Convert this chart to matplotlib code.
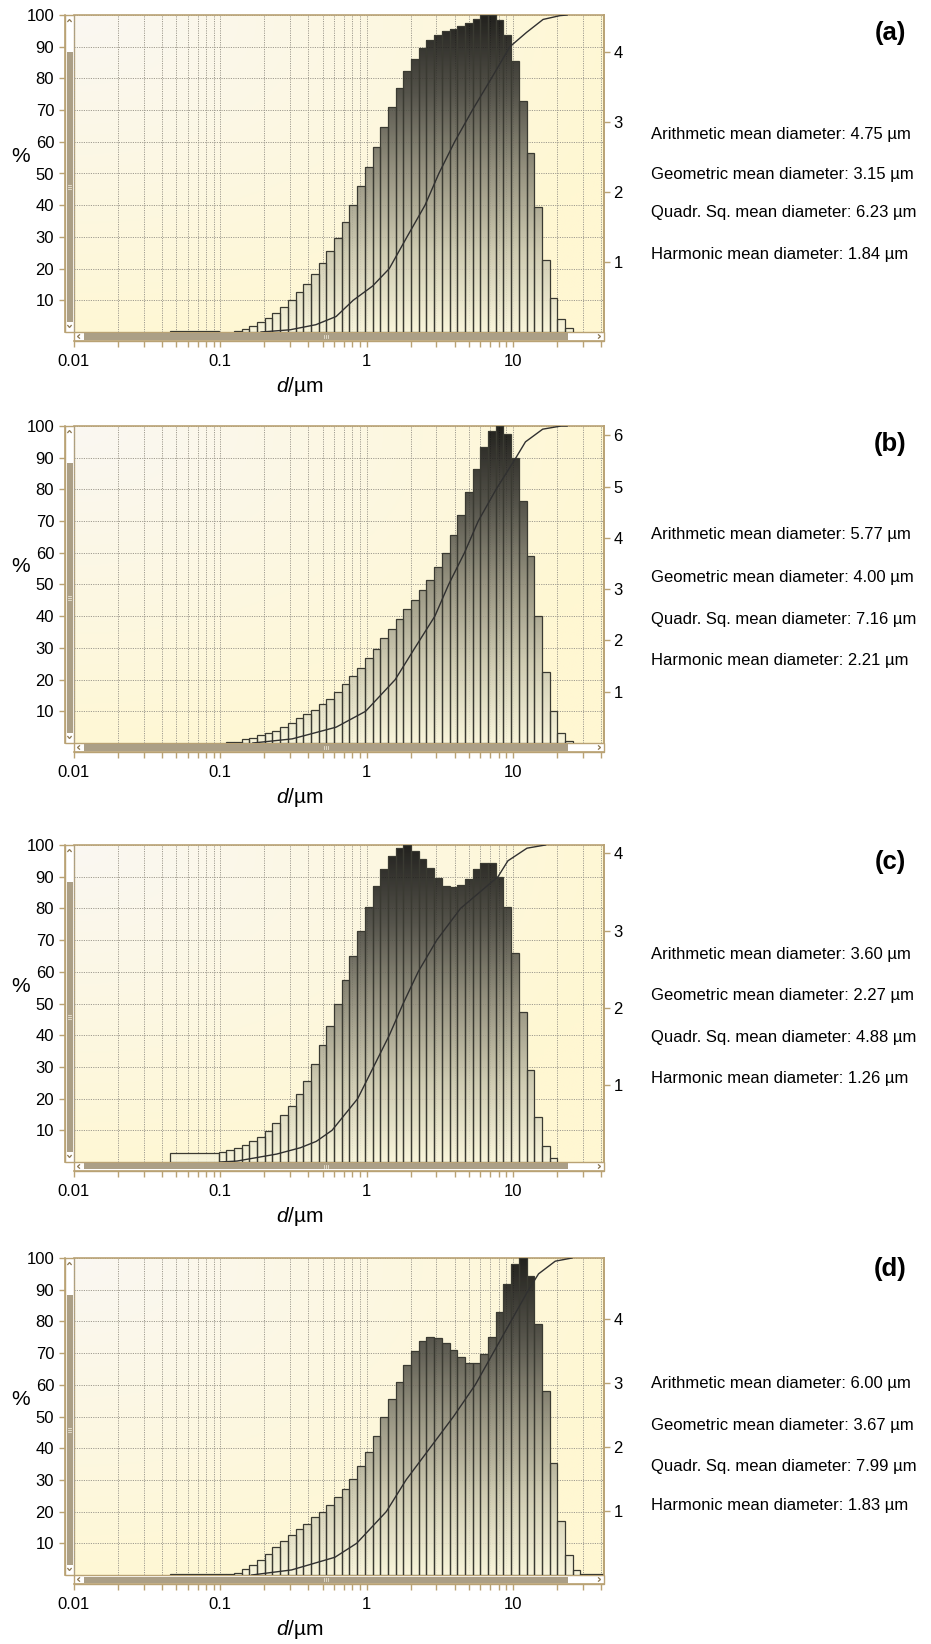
import numpy as np
import matplotlib
matplotlib.use('Agg')
import matplotlib.pyplot as plt
from matplotlib.colors import LinearSegmentedColormap
from matplotlib.patches import Rectangle, PathPatch
from matplotlib.path import Path
from matplotlib.lines import Line2D
from matplotlib.ticker import LogLocator, NullFormatter

plt.rcParams['font.family'] = ['Liberation Sans', 'DejaVu Sans']
plt.rcParams['mathtext.fontset'] = 'custom'
plt.rcParams['mathtext.it'] = 'Liberation Sans:italic'
plt.rcParams['mathtext.rm'] = 'Liberation Sans'

# ---- data ----
# size class edges in um (first and last class are wide)
EDGES = [0.0455, 0.0974, 0.1099, 0.1241, 0.1401, 0.1581, 0.1785, 0.2015, 0.2275, 0.2567,
         0.2898, 0.3272, 0.3693, 0.4169, 0.4707, 0.5313, 0.5997, 0.6770, 0.7642, 0.8627,
         0.9737, 1.099, 1.241, 1.401, 1.581, 1.785, 2.015, 2.275, 2.567, 2.898,
         3.272, 3.693, 4.169, 4.707, 5.313, 5.997, 6.770, 7.642, 8.627, 9.737,
         10.99, 12.41, 14.01, 15.81, 17.85, 20.15, 22.75, 25.67, 28.98, 42.0]

HIST_A = [0.4, 0, 0, 0.3, 1.0, 1.8, 3.0, 4.5, 6.0, 8.0, 10.0, 12.7, 15.2, 18.3, 21.7, 25.5,
          29.8, 34.7, 40.0, 46.0, 52.0, 58.3, 64.6, 71.0, 77.0, 82.3, 86.2, 89.5, 92.0, 93.8,
          95.0, 95.6, 96.4, 97.5, 98.6, 100, 100, 98.3, 93.7, 85.6, 73.0, 56.5, 39.3, 22.8,
          10.7, 4.0, 1.2, 0, 0]
HIST_B = [0, 0, 0.3, 0.4, 1.2, 1.7, 2.4, 3.0, 3.9, 5.0, 6.3, 7.8, 9.0, 10.5, 12.2, 14.0,
          16.2, 18.5, 21.0, 23.7, 26.7, 29.7, 33.0, 36.0, 39.0, 42.3, 45.0, 48.4, 51.5, 55.6,
          60.0, 65.5, 71.8, 79.2, 86.3, 93.4, 98.3, 100, 97.6, 90.0, 76.3, 59.0, 40.0, 22.5,
          10.0, 3.0, 0.7, 0, 0]
HIST_C = [2.8, 3.2, 3.8, 4.5, 5.4, 6.6, 8.0, 9.8, 12.2, 14.8, 17.8, 21.6, 25.7, 31.0, 36.8,
          42.8, 50.0, 57.3, 65.1, 72.8, 80.3, 87.2, 92.4, 96.6, 99.0, 100, 98.2, 95.6, 92.7,
          89.6, 87.2, 86.6, 87.3, 89.3, 92.5, 94.4, 94.4, 90.0, 80.5, 65.8, 47.4, 29.0, 14.3,
          5.0, 1.2, 0, 0, 0, 0]
HIST_D = [0.3, 0.2, 0.3, 0.7, 2.0, 3.2, 4.7, 6.6, 8.8, 10.7, 12.6, 14.4, 16.2, 18.3, 20.0,
          22.2, 24.6, 27.1, 30.3, 34.4, 38.9, 43.9, 49.7, 55.4, 61.0, 66.4, 70.7, 73.7, 75.0,
          74.7, 73.3, 71.1, 68.8, 67.0, 67.0, 69.8, 75.0, 83.0, 91.7, 98.0, 100, 94.2, 79.3,
          57.9, 35.4, 17.0, 6.2, 1.7, 0.2]

# cumulative curves (um, %)
CUM_A_X = [0.19, 0.30, 0.45, 0.62, 0.81, 1.10, 1.43, 1.89, 2.51, 3.12, 4.00, 5.29, 7.13,
           9.55, 12.4, 16.1, 21.0, 23.5]
CUM_A_Y = [0, 0.7, 2.3, 4.9, 10, 14.5, 20, 30, 40, 50, 60, 70, 80, 90, 94.5, 98.6, 99.8, 100]
CUM_B_X = [0.167, 0.31, 0.62, 0.985, 1.57, 2.14, 2.93, 3.64, 4.67, 5.80, 7.68, 10.5, 12.2,
           16.0, 21.4, 23.5]
CUM_B_Y = [0, 1.3, 5, 10, 20, 30, 40, 50, 60, 70, 80, 90, 95, 99, 100, 100]
CUM_C_X = [0.10, 0.13, 0.243, 0.353, 0.453, 0.581, 0.870, 1.116, 1.431, 1.78, 2.254, 3.02,
           4.39, 7.92, 9.25, 12.5, 16.7]
CUM_C_Y = [0, 0.3, 2.5, 4.5, 6.5, 10, 20, 30, 40, 50, 60, 70, 80, 90, 95, 99, 100]
CUM_D_X = [0.164, 0.307, 0.608, 0.856, 1.365, 1.863, 2.707, 3.932, 5.537, 7.326, 9.694,
           12.82, 14.99, 19.5, 25.4]
CUM_D_Y = [0, 1.6, 5.6, 10, 20, 30, 40, 50, 60, 70, 80, 90, 95, 99, 100]

RIGHT_MAX = [4.53, 6.18, 4.11, 4.95]
RIGHT_TICKS = [[1, 2, 3, 4], [1, 2, 3, 4, 5, 6], [1, 2, 3, 4], [1, 2, 3, 4]]

PANEL_LABELS = ['(a)', '(b)', '(c)', '(d)']
MEANS = [['4.75', '3.15', '6.23', '1.84'],
         ['5.77', '4.00', '7.16', '2.21'],
         ['3.60', '2.27', '4.88', '1.26'],
         ['6.00', '3.67', '7.99', '1.83']]
MEAN_NAMES = ['Arithmetic mean diameter', 'Geometric mean diameter',
              'Quadr. Sq. mean diameter', 'Harmonic mean diameter']

Y_TICKS = [10, 20, 30, 40, 50, 60, 70, 80, 90, 100]
X_TICKS = [0.01, 0.1, 1, 10]
X_TICK_LABELS = ['0.01', '0.1', '1', '10']

hists = [HIST_A, HIST_B, HIST_C, HIST_D]
curves = [(CUM_A_X, CUM_A_Y), (CUM_B_X, CUM_B_Y), (CUM_C_X, CUM_C_Y), (CUM_D_X, CUM_D_Y)]

# ---- layout (pixels) ----
W, H = 931, 1644
X0, X1 = 74, 604
TOPS = [15, 426, 845, 1258]
PH = 317
TEXT_Y = [[33, 134, 174, 213, 255],
          [444, 535, 577, 619, 660],
          [862, 954, 995, 1037, 1078],
          [1269, 1383, 1425, 1466, 1505]]

TAN = '#b9a274'
THUMB = '#ab9f86'
GRID = '#a09c90'

bar_cmap = LinearSegmentedColormap.from_list(
    'bars', [(0, '#f8f5dc'), (0.25, '#c9c6ae'), (0.5, '#8a8776'), (0.75, '#3f3e38'), (1, '#030303')])

# background: whitish top-left fading into pale yellow
gx, gy = np.meshgrid(np.linspace(0, 1, 120), np.linspace(0, 1, 120))
wt = np.clip(1 - np.sqrt(gx ** 2 + (1 - gy) ** 2) / 1.1, 0, 1)[..., None]
white = np.array([250, 248, 242]) / 255
yellow = np.array([255, 247, 210]) / 255
bg_img = wt * white + (1 - wt) * yellow

grad = np.linspace(0, 1, 256).reshape(-1, 1)

fig = plt.figure(figsize=(W / 100, H / 100), dpi=100)
fig.patch.set_facecolor('white')


def fx(px):
    return px / W


def fy(py):
    return 1 - py / H


def chevron(pts, lw=1.0):
    xs = [fx(p[0]) for p in pts]
    ys = [fy(p[1]) for p in pts]
    fig.add_artist(Line2D(xs, ys, transform=fig.transFigure, color='#8a7650', lw=lw,
                          solid_joinstyle='miter'))


for i in range(4):
    top = TOPS[i]
    bot = top + PH
    rect = [fx(X0), fy(bot), (X1 - X0) / W, PH / H]

    bg = fig.add_axes(rect, zorder=0)
    bg.imshow(bg_img, extent=[0, 1, 0, 1], aspect='auto', origin='lower')
    bg.set_xlim(0, 1)
    bg.set_ylim(0, 1)
    bg.axis('off')

    ax = fig.add_axes(rect, zorder=1)
    ax.set_facecolor('none')
    ax.set_xscale('log')
    ax.set_axisbelow(True)

    edges = np.array(EDGES)
    h = np.array(hists[i], dtype=float)
    left = edges[:-1]
    width = np.diff(edges)
    keep = h > 0

    # gradient clipped to the bars
    verts, codes = [], []
    for l, w_, hh in zip(left[keep], width[keep], h[keep]):
        verts += [(l, 0), (l, hh), (l + w_, hh), (l + w_, 0), (l, 0)]
        codes += [Path.MOVETO, Path.LINETO, Path.LINETO, Path.LINETO, Path.CLOSEPOLY]
    clip = PathPatch(Path(verts, codes), transform=ax.transData, facecolor='none',
                     edgecolor='none')
    ax.add_patch(clip)
    img = ax.imshow(grad, extent=[0.01, 42, 0, 100], aspect='auto', origin='lower',
                    cmap=bar_cmap, alpha=0.88, zorder=2, interpolation='bilinear')
    img.set_clip_path(clip)

    ax.bar(left[keep], h[keep], width=width[keep], align='edge', fill=False,
           edgecolor='#3a3a32', linewidth=0.9, zorder=3)

    cx, cy = curves[i]
    ax.plot(cx, cy, color='#303030', lw=1.0, zorder=5)

    ax.set_xlim(0.01, 42)
    ax.set_ylim(0, 100)

    ax.set_xticks(X_TICKS, labels=X_TICK_LABELS)
    ax.xaxis.set_minor_locator(LogLocator(base=10, subs=np.arange(2, 10)))
    ax.xaxis.set_minor_formatter(NullFormatter())
    ax.set_yticks(Y_TICKS, labels=[str(t) for t in Y_TICKS])

    ax.grid(True, which='both', axis='x', color=GRID, linestyle=(0, (1.2, 1.2)), lw=0.7)
    ax.grid(True, which='major', axis='y', color=GRID, linestyle=(0, (1.2, 1.2)), lw=0.7)

    for s in ['left', 'bottom']:
        ax.spines[s].set_position(('outward', 6.5))
    for s in ax.spines.values():
        s.set_color(TAN)
        s.set_linewidth(1.2)

    ax.tick_params(axis='both', which='both', direction='out', color=TAN, width=1,
                   length=4.3, labelsize=12, labelcolor='black')
    ax.tick_params(axis='x', pad=5)
    ax.tick_params(axis='y', pad=3.5)

    ax2 = ax.twinx()
    ax2.set_ylim(0, RIGHT_MAX[i])
    ax2.set_yticks(RIGHT_TICKS[i], labels=[str(t) for t in RIGHT_TICKS[i]])
    ax2.tick_params(axis='y', direction='out', color=TAN, width=1, length=4.3,
                    labelsize=12, pad=2.5)
    for s in ['left', 'bottom', 'top']:
        ax2.spines[s].set_visible(False)
    ax2.spines['right'].set_color(TAN)
    ax2.spines['right'].set_linewidth(1.2)

    # left scroll bar
    fig.add_artist(Rectangle((fx(65), fy(bot)), 9 / W, PH / H, transform=fig.transFigure,
                             facecolor='white', edgecolor=TAN, lw=1.0))
    fig.add_artist(Rectangle((fx(66.5), fy(bot - 10)), 6 / W, (PH - 47) / H,
                             transform=fig.transFigure, facecolor=THUMB, edgecolor='none'))
    for d in (-1.6, 0, 1.6):
        fig.add_artist(Line2D([fx(68.3), fx(70.7)], [fy(top + 172 + d)] * 2,
                              transform=fig.transFigure, color='#e8e2d2', lw=0.6))
    chevron([(67.8, top + 6.5), (69.5, top + 4.5), (71.2, top + 6.5)], lw=0.9)
    chevron([(67.8, bot - 6.5), (69.5, bot - 4.5), (71.2, bot - 6.5)], lw=0.9)

    # bottom scroll bar
    fig.add_artist(Rectangle((fx(X0), fy(bot + 9)), (X1 - X0) / W, 9 / H,
                             transform=fig.transFigure, facecolor='white', edgecolor=TAN,
                             lw=1.0))
    fig.add_artist(Rectangle((fx(84), fy(bot + 7.5)), (568 - 84) / W, 6 / H,
                             transform=fig.transFigure, facecolor=THUMB, edgecolor='none'))
    for d in (-1.6, 0, 1.6):
        fig.add_artist(Line2D([fx(326 + d)] * 2, [fy(bot + 3.3), fy(bot + 5.7)],
                              transform=fig.transFigure, color='#e8e2d2', lw=0.6))
    chevron([(79.5, bot + 2.8), (77.5, bot + 4.5), (79.5, bot + 6.2)], lw=0.9)
    chevron([(598.5, bot + 2.8), (600.5, bot + 4.5), (598.5, bot + 6.2)], lw=0.9)

    # axis labels
    fig.text(fx(21), fy(top + 141), '%', fontsize=15, ha='center', va='center')
    fig.text(fx(300), fy(bot + 54), '$d$/µm', fontsize=15, ha='center', va='center')

    # panel label and means
    ty = TEXT_Y[i]
    fig.text(fx(890), fy(ty[0]), PANEL_LABELS[i], fontsize=18.5, fontweight='bold',
             ha='center', va='center')
    for j in range(4):
        fig.text(fx(651), fy(ty[j + 1]), f'{MEAN_NAMES[j]}: {MEANS[i][j]} µm',
                 fontsize=12, ha='left', va='center')

fig.savefig('out.png', dpi=100)
